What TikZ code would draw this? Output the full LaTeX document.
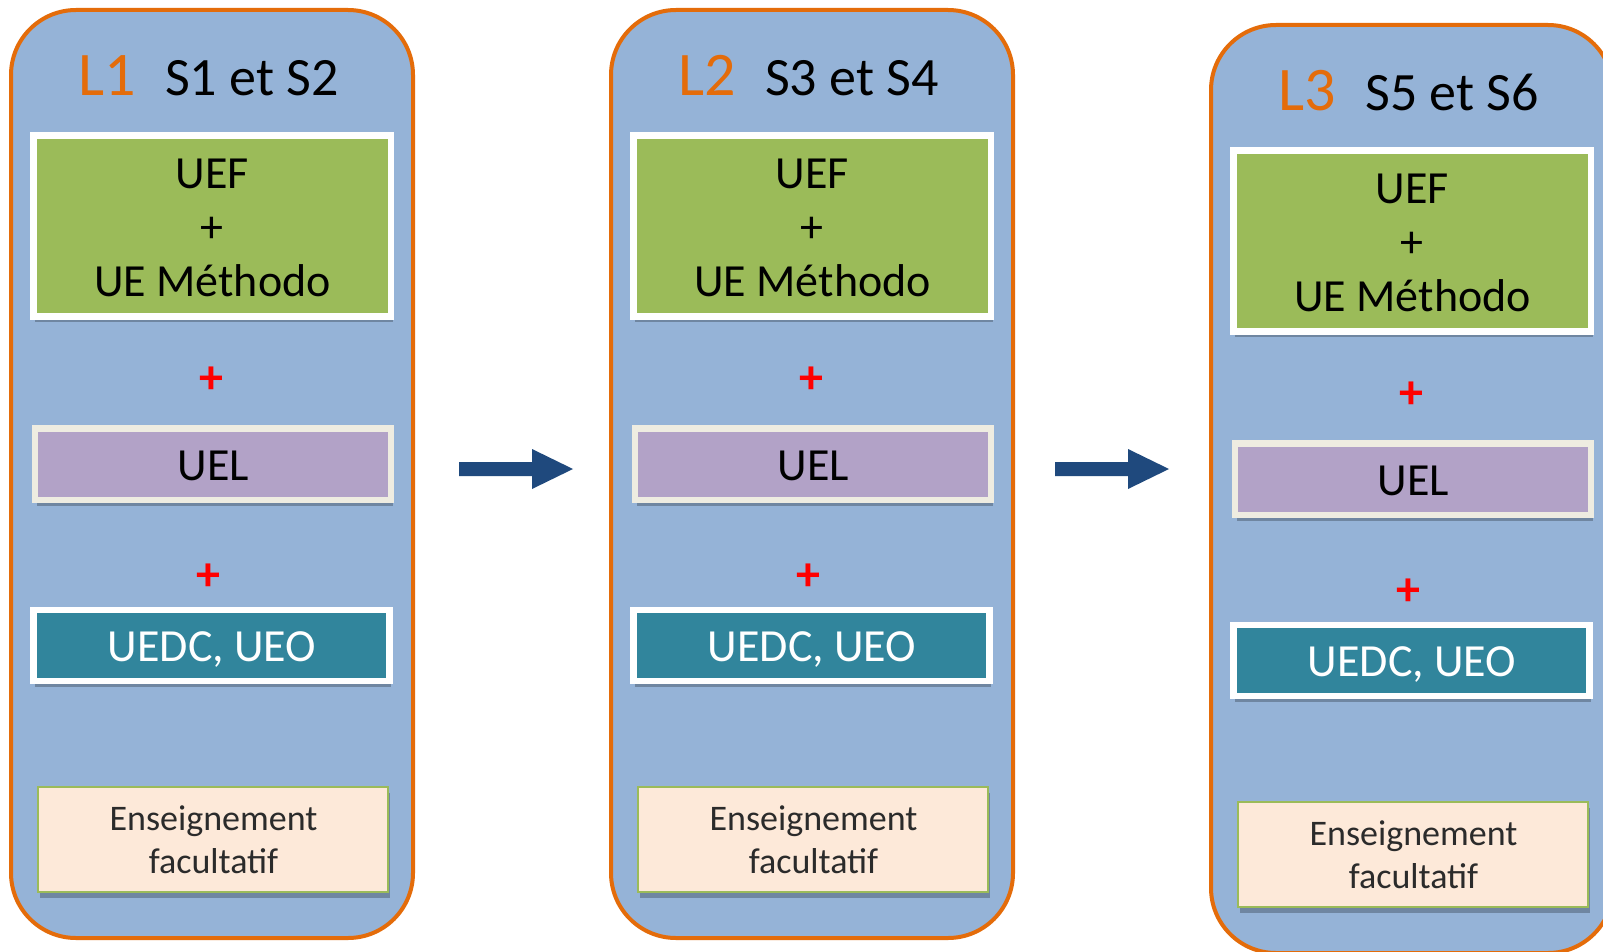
\documentclass[tikz,border=0pt]{standalone}
\usepackage{fontspec}
\setmainfont{Carlito}
\usetikzlibrary{shadows}
\definecolor{panelblue}{HTML}{95B3D7}
\definecolor{panelorange}{HTML}{E46C0A}
\definecolor{uefgreen}{HTML}{9BBB59}
\definecolor{uelpurple}{HTML}{B2A2C7}
\definecolor{uelborder}{HTML}{EEECE1}
\definecolor{uedcteal}{HTML}{31859C}
\definecolor{facpeach}{HTML}{FDE9D9}
\definecolor{arrowblue}{HTML}{1F497D}
\definecolor{textgray}{HTML}{2B2B2B}
\tikzset{
  panel/.style={draw=panelorange, line width=4pt, fill=panelblue, rounded corners=65pt,
    rectangle, inner sep=0pt, outer sep=0pt, minimum width=402pt, minimum height=928pt},
  boxshadow/.style={drop shadow={shadow xshift=1.5pt, shadow yshift=-5.5pt, opacity=0.25, fill=black}},
  boxbase/.style={rectangle, inner sep=0pt, outer sep=0pt, boxshadow},
  uefbox/.style={boxbase, draw=white, line width=6.5pt, fill=uefgreen, minimum width=357.5pt, minimum height=181pt},
  uelbox/.style={boxbase, draw=uelborder, line width=6.5pt, fill=uelpurple, minimum width=356pt, minimum height=71.5pt},
  uedcbox/.style={boxbase, draw=white, line width=6.5pt, fill=uedcteal, minimum width=356pt, minimum height=71pt},
  facbox/.style={boxbase, draw=uefgreen, line width=1.5pt, fill=facpeach, minimum width=350pt, minimum height=105pt},
  lvltext/.style={inner sep=0pt, anchor=base west, text=panelorange, font=\fontsize{62}{70}\selectfont},
  semtext/.style={inner sep=0pt, anchor=base west, text=black, font=\fontsize{54}{60}\selectfont},
  boxtext/.style={inner sep=0pt, anchor=base, text=black, font=\fontsize{46}{54}\selectfont},
  inplus/.style={inner sep=0pt, anchor=center, text=black, font=\fontsize{46}{54}\selectfont},
  redplus/.style={inner sep=0pt, anchor=center, text=red, font=\fontsize{48}{54}\selectfont\bfseries},
  factext/.style={inner sep=0pt, anchor=base, text=textgray, font=\fontsize{36}{40}\selectfont},
  blockarrow/.style={fill=arrowblue}
}
\newcommand{\drawpanel}[4]{%
  \begin{scope}[shift={#1}]
    \node[panel] (panel#4) at (212,474) {};
    \node[lvltext] (lvl#4) at (78,95.5) {#2};
    \node[semtext] (sem#4) at (165,95.5) {#3};
    \node[uefbox] (uef#4) at (212.25,226) {};
    \node[boxtext] (uefa#4) at (212.5,188.5) {UEF};
    \node[inplus] (uefb#4) at (212,230) {+};
    \node[boxtext] (uefc#4) at (212.5,296) {UE Méthodo};
    \node[redplus] (plusa#4) at (211.7,380) {+};
    \node[uelbox] (uel#4) at (213,464.25) {};
    \node[boxtext] (uelt#4) at (213.5,480) {UEL};
    \node[redplus] (plusb#4) at (208.5,577) {+};
    \node[uedcbox] (uedc#4) at (211.5,645.5) {};
    \node[boxtext, text=white] (uedct#4) at (212,661) {UEDC, UEO};
    \node[facbox] (fac#4) at (213,839.5) {};
    \node[factext] (faca#4) at (213.5,830) {Enseignement};
    \node[factext] (facb#4) at (213.5,873) {facultatif};
  \end{scope}%
}
\begin{document}
\begin{tikzpicture}[x=1pt, y=-1pt]
  \useasboundingbox (0,0) rectangle (1603,952);
  \clip (0,0) rectangle (1603,952);
  \fill[white] (0,0) rectangle (1603,952);
  \drawpanel{(0,0)}{L1}{S1 et S2}{1}
  \drawpanel{(600,0)}{L2}{S3 et S4}{2}
  \drawpanel{(1200,15)}{L3}{S5 et S6}{3}
  \fill[blockarrow] (459,462) -- (532,462) -- (532,449) -- (573,469) -- (532,489) -- (532,476) -- (459,476) -- cycle;
  \fill[blockarrow] (1055,462) -- (1128,462) -- (1128,449) -- (1169,469) -- (1128,489) -- (1128,476) -- (1055,476) -- cycle;
\end{tikzpicture}
\end{document}
